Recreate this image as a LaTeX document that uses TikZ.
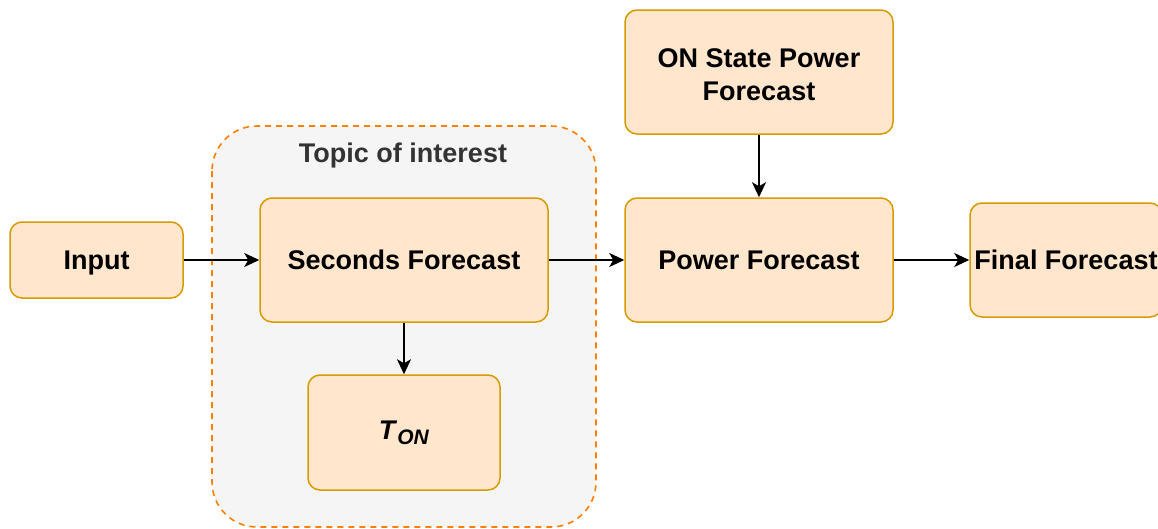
\documentclass[tikz,border=0pt]{standalone}
\usepackage{fontspec}
\setmainfont{Liberation Sans}
\usetikzlibrary{arrows.meta}
\definecolor{boxfill}{HTML}{FFE6CC}
\definecolor{boxdraw}{HTML}{D79B00}
\definecolor{grpfill}{HTML}{F5F5F5}
\definecolor{grpdraw}{HTML}{FF8000}
\definecolor{grptext}{HTML}{333333}
\tikzset{
  boxfont/.style={font=\fontsize{27}{33}\selectfont\bfseries},
  box/.style={draw=boxdraw, fill=boxfill, line width=1.5pt, rounded corners=12pt,
    inner sep=0pt, align=center, boxfont},
  conn/.style={line width=1.8pt, -{Stealth[length=15pt,width=14pt,inset=4pt]}},
  grp/.style={draw=grpdraw, fill=grpfill, line width=1.6pt, dash pattern=on 6pt off 5pt, rounded corners=45pt}
}
\begin{document}
\begin{tikzpicture}[x=1pt,y=-1pt]
\clip (0,0) rectangle (1158,528);
\fill[white] (0,0) rectangle (1158,528);
\draw[grp] (212,126) rectangle (596,527);
\node[boxfont, text=grptext] (grplabel) at (403,156) {Topic of interest};
\node[box, minimum width=173pt, minimum height=76pt, text depth=0pt] (input) at (96.5,260) {Input};
\node[box, minimum width=288pt, minimum height=124pt] (sec) at (404,260) {Seconds Forecast};
\node[box, minimum width=192pt, minimum height=115pt] (ton) at (404,432.5) {\textit{T}\raisebox{-0.35ex}{\fontsize{21}{21}\selectfont\textit{ON}}};
\node[box, minimum width=268pt, minimum height=124pt,
  label={[boxfont, align=center, yshift=-3pt]center:ON State Power\\Forecast}] (on) at (759,72) {};
\node[box, minimum width=268pt, minimum height=124pt] (pow) at (759,260) {Power Forecast};
\node[box, minimum width=192pt, minimum height=114pt] (fin) at (1066,260) {Final Forecast};
\draw[conn] (input) -- (sec);
\draw[conn] (sec) -- (pow);
\draw[conn] (on) -- (pow);
\draw[conn] (pow) -- (fin);
\draw[conn] (sec) -- (ton);
\end{tikzpicture}
\end{document}
